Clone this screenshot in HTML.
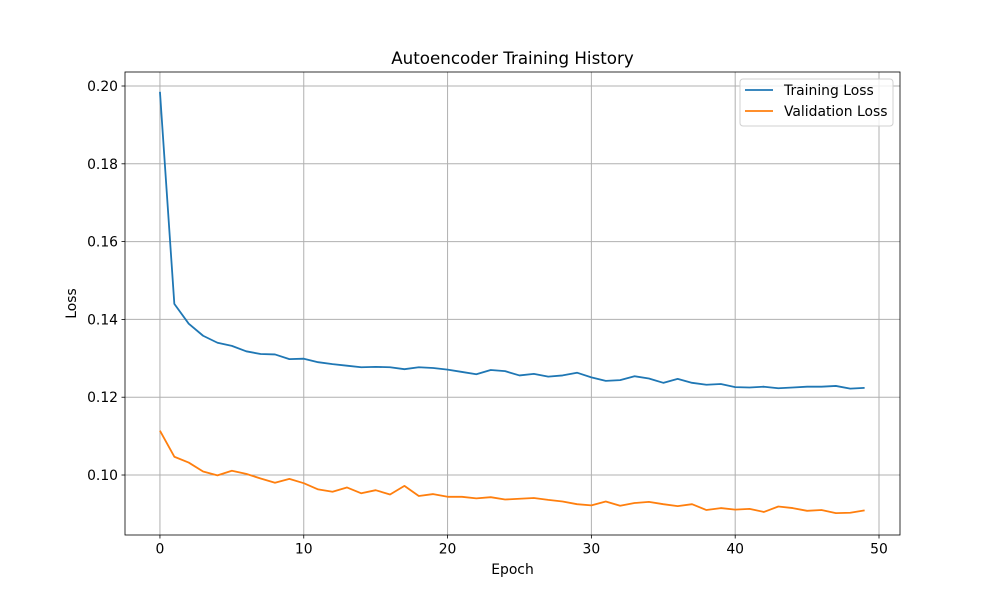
<!DOCTYPE html>
<html><head><meta charset="utf-8"><style>
body{margin:0;background:#fff;font-family:"Liberation Sans","DejaVu Sans",sans-serif;}
svg text{font-family:"DejaVu Sans","Liberation Sans",sans-serif;}
</style></head><body>
<svg id="c" width="1000" height="600" xmlns="http://www.w3.org/2000/svg"></svg>
<script>
const epochs = Array.from({length:50},(_,i)=>i);
const trainLoss = [0.1985,0.1440,0.1389,0.1358,0.1340,0.1332,0.1318,0.1311,0.1310,0.1298,0.1299,0.1290,0.1285,0.1281,0.1277,0.1278,0.1277,0.1272,0.1277,0.1275,0.1271,0.1265,0.1259,0.1270,0.1267,0.1256,0.1260,0.1253,0.1256,0.1263,0.1251,0.1242,0.1244,0.1254,0.1248,0.1237,0.1247,0.1237,0.1232,0.1234,0.1226,0.1225,0.1227,0.1223,0.1225,0.1227,0.1227,0.1229,0.1222,0.1224];
const valLoss = [0.1114,0.1047,0.1032,0.1009,0.0999,0.1011,0.1003,0.0991,0.0980,0.0990,0.0979,0.0963,0.0957,0.0968,0.0953,0.0961,0.0950,0.0972,0.0946,0.0951,0.0944,0.0944,0.0940,0.0943,0.0937,0.0939,0.0941,0.0936,0.0932,0.0925,0.0922,0.0932,0.0921,0.0928,0.0931,0.0925,0.0920,0.0925,0.0910,0.0915,0.0911,0.0913,0.0905,0.0919,0.0915,0.0908,0.0910,0.0902,0.0903,0.0909];
const xTicks = [0,10,20,30,40,50];
const yTicks = [0.10,0.12,0.14,0.16,0.18,0.20];
const L=125,R=900,T=72,B=535;
const xMin=-2.43,xMax=51.46,yMin=0.08458,yMax=0.2036;
const sx=v=>L+(v-xMin)/(xMax-xMin)*(R-L);
const sy=v=>B-(v-yMin)/(yMax-yMin)*(B-T);
const svg=document.getElementById('c');
const NS='http://www.w3.org/2000/svg';
function mk(t,a,p){const e=document.createElementNS(NS,t);for(const k in a)e.setAttribute(k,a[k]);(p||svg).appendChild(e);return e;}
let e;
e=mk('rect',{x:L,y:T,width:R-L,height:B-T,fill:'#fff'});


xTicks.forEach(v=>{const x=sx(v);
 e=mk('line',{x1:x,x2:x,y1:T,y2:B,stroke:'#b0b0b0','stroke-width':1});
 
 
 mk('line',{x1:x,x2:x,y1:B,y2:B+3.5,stroke:'#000','stroke-width':0.8});
 e=mk('text',{x:x,y:B+18.5,'text-anchor':'middle','font-size':13.9,fill:'#000'});e.textContent=v;
 
 
});
yTicks.forEach(v=>{const y=sy(v);
 e=mk('line',{x1:L,x2:R,y1:y,y2:y,stroke:'#b0b0b0','stroke-width':1});
 
 
 mk('line',{x1:L-3.5,x2:L,y1:y,y2:y,stroke:'#000','stroke-width':0.8});
 e=mk('text',{x:L-7,y:y+5,'text-anchor':'end','font-size':13.9,fill:'#000'});e.textContent=v.toFixed(2);
 
 
});
function line(data,color,name){
 e=mk('polyline',{points:data.map((v,i)=>sx(epochs[i])+','+sy(v)).join(' '),fill:'none',stroke:color,'stroke-width':1.8,'stroke-linejoin':'round'});
 
 
}
line(trainLoss,'#1f77b4','training-loss-line');
line(valLoss,'#ff7f0e','validation-loss-line');
e=mk('rect',{x:L,y:T,width:R-L,height:B-T,fill:'none',stroke:'#000','stroke-width':0.8});


e=mk('text',{x:(L+R)/2,y:64,'text-anchor':'middle','font-size':16.7,fill:'#000'});e.textContent='Autoencoder Training History';


e=mk('text',{x:(L+R)/2,y:574,'text-anchor':'middle','font-size':13.9,fill:'#000'});e.textContent='Epoch';


e=mk('text',{x:76,y:(T+B)/2,'text-anchor':'middle','font-size':13.9,fill:'#000',transform:'rotate(-90 76 '+(T+B)/2+')'});e.textContent='Loss';


const lg=mk('g',{});


mk('rect',{x:740,y:79,width:153,height:47,rx:3,fill:'#fff',stroke:'#d0d0d0','stroke-width':1,'fill-opacity':0.8},lg);
[['Training Loss','#1f77b4',90],['Validation Loss','#ff7f0e',111]].forEach(([t,c,y])=>{
 const g=mk('g',{},lg);
 
 
 mk('line',{x1:745,x2:773,y1:y,y2:y,stroke:c,'stroke-width':1.8},g);
 const tx=mk('text',{x:784,y:y+5,'font-size':13.9,fill:'#000'},g);tx.textContent=t;
});
</script>
</body></html>
